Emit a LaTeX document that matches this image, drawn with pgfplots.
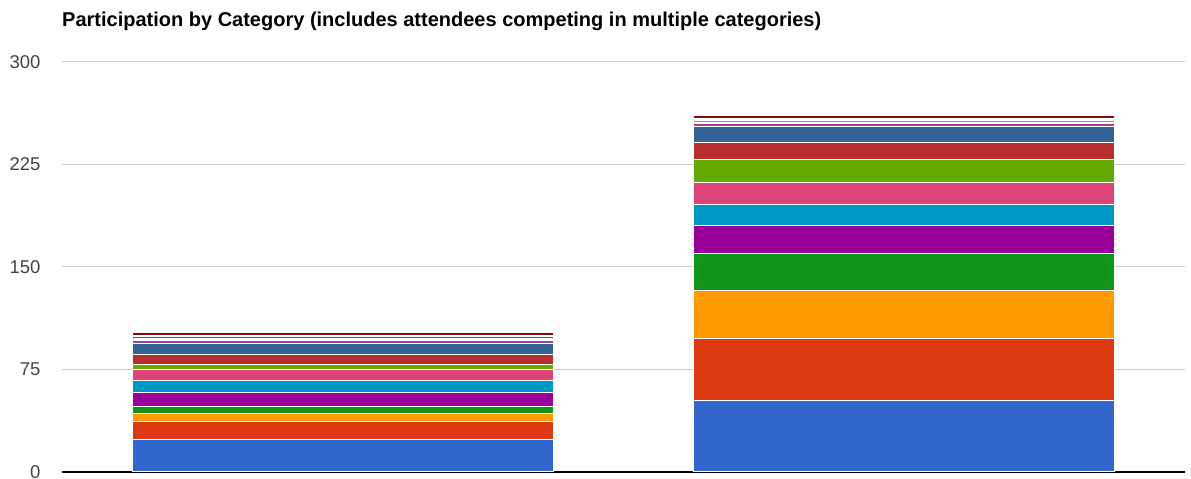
\documentclass[border=0pt]{standalone}
\usepackage{pgfplots}
\pgfplotsset{compat=1.18}
\usepackage{fontspec}
\setmainfont{Liberation Sans}

\definecolor{c1}{HTML}{3366CC}
\definecolor{c2}{HTML}{DC3912}
\definecolor{c3}{HTML}{FF9900}
\definecolor{c4}{HTML}{109618}
\definecolor{c5}{HTML}{990099}
\definecolor{c6}{HTML}{0099C6}
\definecolor{c7}{HTML}{DD4477}
\definecolor{c8}{HTML}{66AA00}
\definecolor{c9}{HTML}{B82E2E}
\definecolor{c10}{HTML}{316395}
\definecolor{c11}{HTML}{994499}
\definecolor{c12}{HTML}{22AA99}
\definecolor{c13}{HTML}{AAAA11}
\definecolor{c14}{HTML}{6633CC}
\definecolor{c15}{HTML}{E67300}
\definecolor{c16}{HTML}{8B0707}
\definecolor{gridgray}{HTML}{CCCCCC}
\definecolor{ticktext}{HTML}{444444}
\definecolor{baseline}{HTML}{333333}

\begin{document}
\begin{tikzpicture}
\begin{axis}[
  name=ax, at={(0,0)}, anchor=south west,
  scale only axis,
  width=1123pt, height=410pt,
  ybar stacked,
  bar width=421pt,
  xmin=-0.5, xmax=1.5,
  ymin=0, ymax=300,
  ytick={0,75,150,225,300},
  xtick=\empty,
  clip=false,
  axis y line*=left,
  axis x line*=bottom,
  y axis line style={draw=none},
  x axis line style={draw=none},
  ymajorgrids,
  grid style={draw=gridgray, line width=1pt},
  major tick length=0pt,
  yticklabel style={font=\fontsize{18.5}{18.5}\selectfont, text=ticktext, xshift=-18pt},
  /pgf/number format/assume math mode=true,
  every axis plot/.append style={draw=white, line width=1pt},
]
\addplot[fill=c1]  coordinates {(0,24) (1,52)};
\addplot[fill=c2]  coordinates {(0,13) (1,46)};
\addplot[fill=c3]  coordinates {(0,6)  (1,35)};
\addplot[fill=c4]  coordinates {(0,5)  (1,27)};
\addplot[fill=c5]  coordinates {(0,10) (1,20)};
\addplot[fill=c6]  coordinates {(0,9)  (1,16)};
\addplot[fill=c7]  coordinates {(0,8)  (1,16)};
\addplot[fill=c8]  coordinates {(0,4)  (1,17)};
\addplot[fill=c9]  coordinates {(0,7)  (1,12)};
\addplot[fill=c10] coordinates {(0,8)  (1,12)};
\addplot[fill=c11] coordinates {(0,2)  (1,2)};
\addplot[fill=c12] coordinates {(0,1)  (1,1)};
\addplot[fill=c13] coordinates {(0,1)  (1,1)};
\addplot[fill=c14] coordinates {(0,1)  (1,1)};
\addplot[fill=c15] coordinates {(0,1)  (1,1)};
\addplot[fill=c16] coordinates {(0,2)  (1,2)};
% baseline drawn over the bars
\draw[baseline, line width=2pt] (rel axis cs:0,0) -- (rel axis cs:1,0);
\end{axis}
\node[anchor=base west, inner sep=0pt, font=\bfseries\fontsize{20}{20}\selectfont]
  at (0pt,445pt) {Participation by Category (includes attendees competing in multiple categories)};
\pgfresetboundingbox
\path (-62pt,-7pt) rectangle (1129pt,472pt);
\end{tikzpicture}
\end{document}
